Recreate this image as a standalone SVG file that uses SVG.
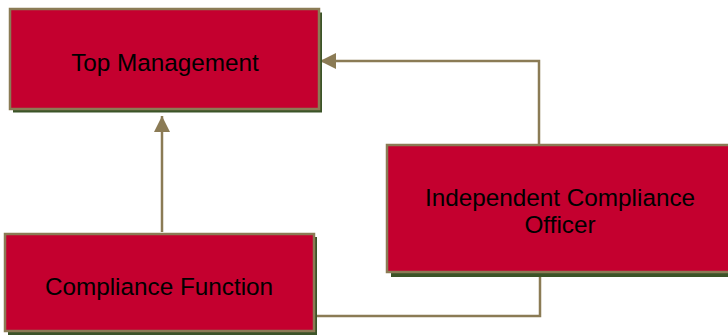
<svg xmlns="http://www.w3.org/2000/svg" width="728" height="336" viewBox="0 0 728 336">
<defs>
<style>
.shadow{fill:#3B5428}
.box{fill:#C4002F;stroke:#8B7B55;stroke-width:2.5}
.lbl{font-family:"Liberation Sans",Arial,sans-serif;font-size:24.3px;fill:#000;text-anchor:middle}
.conn{fill:none;stroke:#8B7B55;stroke-width:2.5}
</style>
<marker id="ah" viewBox="0 0 10 10" refX="10" refY="5" markerWidth="16" markerHeight="16" markerUnits="userSpaceOnUse" orient="auto">
<path d="M0,0 L10,5 L0,10 z" fill="#8B7B55"/>
</marker>
</defs>
<g id="connectors">
<line class="conn" x1="162" y1="232" x2="162" y2="116" marker-end="url(#ah)"/>
<polyline class="conn" points="539,145 539,61 320,61" marker-end="url(#ah)"/>
<polyline class="conn" points="540,276 540,316 315,316"/>
</g>
<g id="top-management">
<rect class="shadow" x="13" y="12.5" width="309" height="100"/>
<rect class="box" x="10" y="9" width="309" height="100"/>
<text class="lbl" x="165" y="71">Top Management</text>
</g>
<g id="compliance-function">
<rect class="shadow" x="8" y="237" width="309" height="98"/>
<rect class="box" x="5" y="234" width="309" height="97"/>
<text class="lbl" x="159" y="295">Compliance Function</text>
</g>
<g id="independent-compliance-officer">
<rect class="shadow" x="391" y="149" width="346" height="128"/>
<rect class="box" x="387" y="145" width="346" height="127"/>
<text class="lbl" x="560" y="206">Independent Compliance</text>
<text class="lbl" x="560" y="233">Officer</text>
</g>
</svg>
